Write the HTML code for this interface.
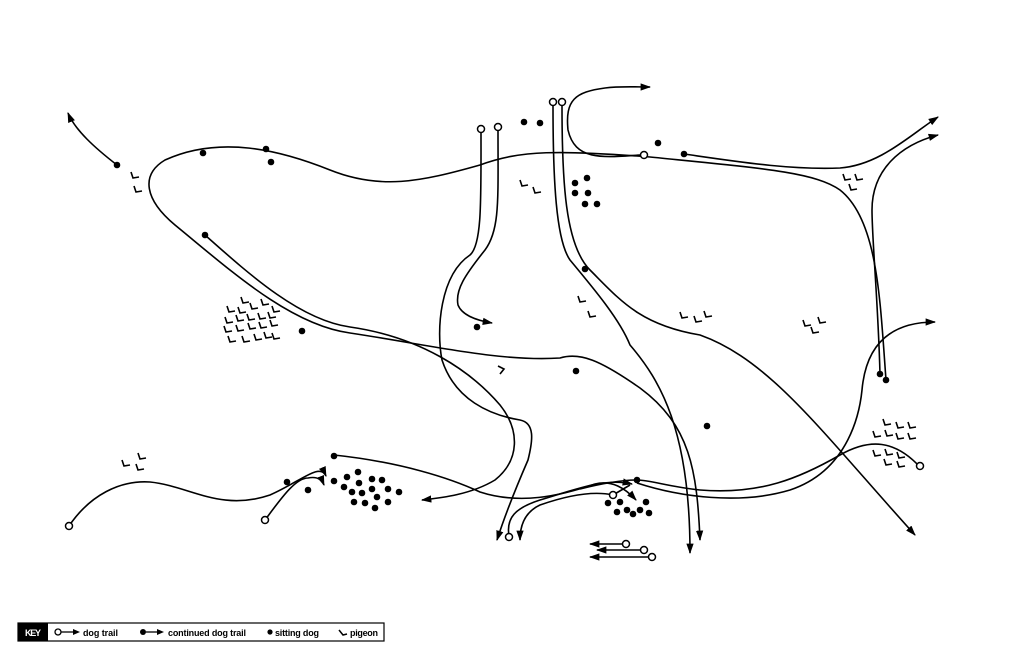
<!DOCTYPE html>
<html><head><meta charset="utf-8"><style>html,body{margin:0;padding:0;background:#fff}svg{display:block}</style></head>
<body>
<svg width="1024" height="662" viewBox="0 0 1024 662" xmlns="http://www.w3.org/2000/svg">
<defs>
<marker id="a" viewBox="0 0 10 10" refX="9" refY="5" markerWidth="6.5" markerHeight="6.5" orient="auto-start-reverse" markerUnits="strokeWidth"><path d="M0,1.5 L10,5 L0,8.5 Z" fill="#000"/></marker>
<path id="p" d="M0,0 L2,6 L8,5" fill="none" stroke="#000" stroke-width="1.6"/>
</defs>
<g fill="none" stroke="#000" stroke-width="1.6">
<path d="M886,380 C880,300 878,220 840,190 C815,172 760,168 650,157 C560,150 520,150 480,165 C420,182 380,190 330,170 C280,150 220,135 165,160 C140,175 145,200 175,225 C230,270 290,325 350,333 C430,345 500,362 560,358 C580,352 600,360 640,388 C690,425 697,470 700,540" marker-end="url(#a)"/>
<path d="M205,235 C250,275 300,320 350,327 C420,337 470,370 500,405 C520,430 520,460 495,480 C470,495 440,498 422,500" marker-end="url(#a)"/>
<path d="M553,106 C553,180 556,240 570,260 C595,290 620,320 630,345 C660,380 690,430 690,553" marker-end="url(#a)"/>
<path d="M562,106 C562,180 565,245 590,270 C620,300 640,325 700,335 C770,360 820,430 915,535" marker-end="url(#a)"/>
<path d="M640,155 C600,158 575,160 568,130 C565,100 575,92 605,88 C620,86 635,87 650,87" marker-end="url(#a)"/>
<path d="M481,133 C481,200 482,245 470,255 C440,275 436,330 442,360 C455,400 490,415 520,420 C535,423 533,440 528,460 C515,490 505,515 497,540" marker-end="url(#a)"/>
<path d="M498,131 C498,200 500,230 485,250 C465,275 455,290 458,305 C462,315 475,320 492,323" marker-end="url(#a)"/>
<path d="M684,154 C740,162 790,170 840,168 C880,165 910,135 938,117" marker-end="url(#a)"/>
<path d="M880,374 C878,300 872,240 872,210 C872,170 900,145 938,135" marker-end="url(#a)"/>
<path d="M637,483 C680,497 740,505 790,490 C850,470 860,410 862,390 C866,345 890,322 935,322" marker-end="url(#a)"/>
<path d="M920,467 C895,440 870,438 840,455 C800,478 760,495 700,490 C670,487 650,480 637,480"/>
<path d="M637,480 C620,480 600,484 580,489" />
<path d="M117,165 C95,148 75,130 68,113" marker-end="url(#a)"/>
<path d="M69,526 C90,495 120,480 150,482 C190,486 220,512 270,495 C300,482 320,462 326,476" marker-end="url(#a)"/>
<path d="M265,520 C280,500 295,478 308,478 C318,476 322,480 324,485" marker-end="url(#a)"/>
<path d="M334,455 C400,462 450,478 480,492 C520,505 560,496 595,484 C612,480 625,488 636,500" marker-end="url(#a)"/>
<path d="M509,536 C506,518 515,508 540,500 C580,488 605,478 632,484" marker-end="url(#a)"/>
<path d="M613,495 C590,490 560,498 540,505 C525,512 520,525 520,540" marker-end="url(#a)"/>
<path d="M613,495 L630,485"/>
<path d="M626,544 L590,544" marker-end="url(#a)"/>
<path d="M644,550 L597,550" marker-end="url(#a)"/>
<path d="M652,557 L590,557" marker-end="url(#a)"/>
</g>
<g fill="#fff" stroke="#000" stroke-width="1.5">
<circle cx="553" cy="102" r="3.5"/><circle cx="562" cy="102" r="3.5"/><circle cx="481" cy="129" r="3.5"/><circle cx="498" cy="127" r="3.5"/><circle cx="644" cy="155" r="3.5"/><circle cx="920" cy="466" r="3.5"/><circle cx="69" cy="526" r="3.5"/><circle cx="265" cy="520" r="3.5"/><circle cx="509" cy="537" r="3.5"/><circle cx="613" cy="495" r="3.5"/><circle cx="626" cy="544" r="3.5"/><circle cx="644" cy="550" r="3.5"/><circle cx="652" cy="557" r="3.5"/>
</g>
<g fill="#000">
<circle cx="203" cy="153" r="3.3"/><circle cx="266" cy="149" r="3.3"/><circle cx="271" cy="162" r="3.3"/><circle cx="205" cy="235" r="3.3"/><circle cx="117" cy="165" r="3.3"/><circle cx="302" cy="331" r="3.3"/><circle cx="524" cy="122" r="3.3"/><circle cx="540" cy="123" r="3.3"/><circle cx="658" cy="143" r="3.3"/><circle cx="684" cy="154" r="3.3"/>
<circle cx="575" cy="183" r="3.3"/><circle cx="587" cy="178" r="3.3"/><circle cx="575" cy="193" r="3.3"/><circle cx="588" cy="193" r="3.3"/><circle cx="585" cy="204" r="3.3"/><circle cx="597" cy="204" r="3.3"/>
<circle cx="585" cy="269" r="3.3"/><circle cx="477" cy="327" r="3.3"/><circle cx="576" cy="371" r="3.3"/><circle cx="707" cy="426" r="3.3"/><circle cx="880" cy="374" r="3.3"/><circle cx="886" cy="380" r="3.3"/><circle cx="637" cy="480" r="3.3"/><circle cx="334" cy="456" r="3.3"/>
<circle cx="287" cy="482" r="3.3"/><circle cx="308" cy="490" r="3.3"/><circle cx="334" cy="481" r="3.3"/><circle cx="347" cy="477" r="3.3"/><circle cx="358" cy="472" r="3.3"/><circle cx="372" cy="479" r="3.3"/><circle cx="382" cy="480" r="3.3"/><circle cx="359" cy="483" r="3.3"/><circle cx="344" cy="487" r="3.3"/><circle cx="352" cy="492" r="3.3"/><circle cx="362" cy="493" r="3.3"/><circle cx="372" cy="489" r="3.3"/><circle cx="388" cy="489" r="3.3"/><circle cx="399" cy="492" r="3.3"/><circle cx="377" cy="497" r="3.3"/><circle cx="354" cy="502" r="3.3"/><circle cx="365" cy="503" r="3.3"/><circle cx="388" cy="502" r="3.3"/><circle cx="375" cy="508" r="3.3"/>
<circle cx="608" cy="503" r="3.3"/><circle cx="620" cy="502" r="3.3"/><circle cx="646" cy="502" r="3.3"/><circle cx="617" cy="512" r="3.3"/><circle cx="627" cy="510" r="3.3"/><circle cx="633" cy="514" r="3.3"/><circle cx="640" cy="510" r="3.3"/><circle cx="649" cy="513" r="3.3"/>
</g>
<g>
<use href="#p" x="131" y="172"/><use href="#p" x="134" y="186"/>
<use href="#p" x="241" y="297"/><use href="#p" x="227" y="306"/><use href="#p" x="238" y="307"/><use href="#p" x="250" y="303"/><use href="#p" x="261" y="299"/><use href="#p" x="272" y="306"/>
<use href="#p" x="225" y="317"/><use href="#p" x="236" y="315"/><use href="#p" x="247" y="314"/><use href="#p" x="258" y="313"/><use href="#p" x="268" y="312"/>
<use href="#p" x="224" y="326"/><use href="#p" x="236" y="325"/><use href="#p" x="248" y="323"/><use href="#p" x="259" y="322"/><use href="#p" x="270" y="320"/>
<use href="#p" x="228" y="336"/><use href="#p" x="242" y="336"/><use href="#p" x="254" y="334"/><use href="#p" x="264" y="332"/><use href="#p" x="272" y="333"/>
<use href="#p" x="520" y="180"/><use href="#p" x="533" y="187"/>
<use href="#p" x="578" y="296"/><use href="#p" x="588" y="311"/>
<path d="M498,366 L504,369 L500,374" fill="none" stroke="#000" stroke-width="1.6"/>
<use href="#p" x="680" y="312"/><use href="#p" x="694" y="316"/><use href="#p" x="704" y="311"/>
<use href="#p" x="803" y="320"/><use href="#p" x="818" y="317"/><use href="#p" x="811" y="327"/>
<use href="#p" x="843" y="174"/><use href="#p" x="855" y="174"/><use href="#p" x="849" y="184"/>
<use href="#p" x="122" y="460"/><use href="#p" x="138" y="453"/><use href="#p" x="136" y="464"/>
<use href="#p" x="883" y="419"/><use href="#p" x="896" y="422"/><use href="#p" x="908" y="422"/>
<use href="#p" x="873" y="431"/><use href="#p" x="885" y="430"/><use href="#p" x="896" y="433"/><use href="#p" x="908" y="433"/>
<use href="#p" x="873" y="450"/><use href="#p" x="885" y="449"/><use href="#p" x="897" y="452"/>
<use href="#p" x="884" y="459"/><use href="#p" x="897" y="461"/>
</g>
<rect x="18" y="623" width="366" height="18" fill="#fff" stroke="#000" stroke-width="1.2"/>
<rect x="18" y="623" width="30" height="18" fill="#000"/>
<g font-family="Liberation Sans, sans-serif" font-weight="bold" font-size="9">
<text x="25" y="636" fill="#fff" textLength="16">KEY</text>
<text x="83" y="636" textLength="35">dog trail</text>
<text x="168" y="636" textLength="78">continued dog trail</text>
<text x="275" y="636" textLength="44">sitting dog</text>
<text x="350" y="636" textLength="28">pigeon</text>
</g>
<circle cx="58" cy="632" r="3" fill="#fff" stroke="#000" stroke-width="1.3"/>
<path d="M61,632 L74,632" stroke="#000" stroke-width="1.3"/><path d="M73,629 L80,632 L73,635Z"/>
<circle cx="143" cy="632" r="3"/>
<path d="M146,632 L158,632" stroke="#000" stroke-width="1.3"/><path d="M157,629 L164,632 L157,635Z"/>
<circle cx="270" cy="632" r="2.6"/>
<path d="M339,630 L343,635 L347,634" fill="none" stroke="#000" stroke-width="1.5"/>
</svg>
</body></html>
